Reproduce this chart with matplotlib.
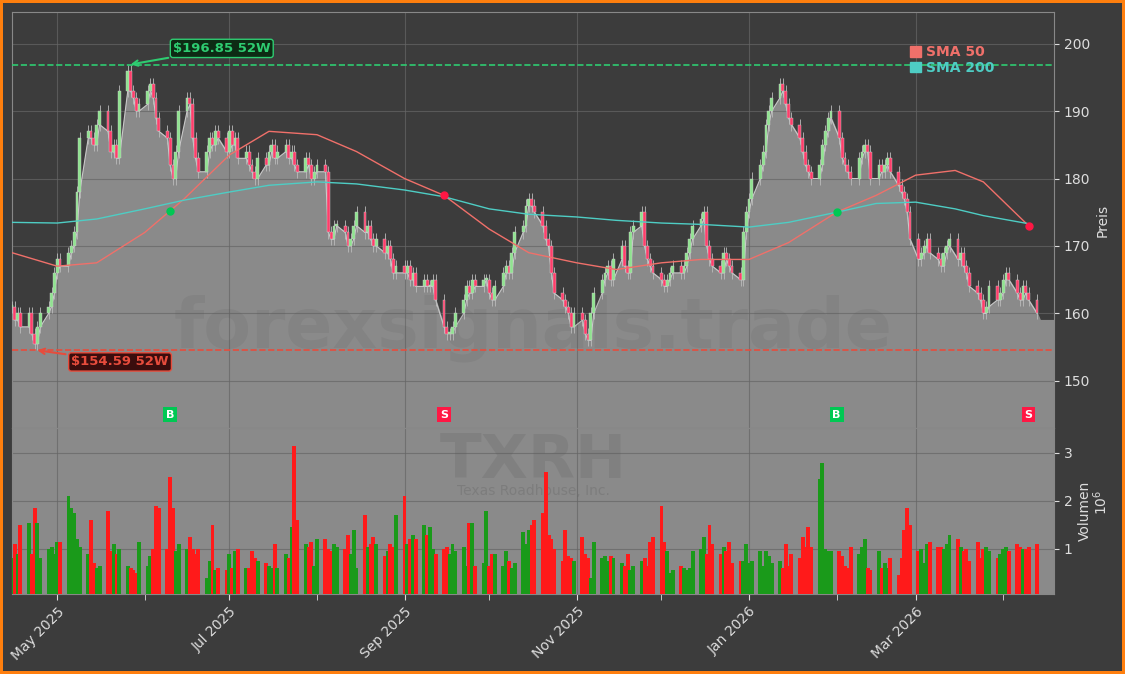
import numpy as np
import pandas as pd
import matplotlib
matplotlib.use('Agg')
import matplotlib.pyplot as plt
import matplotlib.dates as mdates
from matplotlib.patches import Patch

# daily closes, Apr 2025 - Apr 2026
closes = [
    161, 159, 160, 158, 160, 157, 155.5, 158, 160, 161,
    163, 166, 168, 167, 169, 170, 172, 178, 186, 187,
    186, 185, 188, 190, 187, 184, 185, 183, 193, 196,
    193, 192, 190, 191, 193, 194, 192, 189, 187, 186,
    182, 180, 184, 190, 192, 191, 186, 183, 181, 184,
    186, 185, 187, 186, 184, 187, 185, 186, 183, 184,
    182, 181, 180, 183, 182, 184, 185, 183, 184, 185,
    183, 184, 182, 181, 183, 182, 180, 181, 182, 181,
    172, 171, 173, 173, 172, 170, 171, 173, 175, 172,
    173, 171, 170, 171, 169, 170, 168, 166, 167, 166,
    167, 165, 166, 164, 165, 164, 164, 165, 162, 158,
    157, 157, 158, 160, 162, 164, 163, 165, 164, 165,
    165, 163, 162, 164, 166, 167, 166, 169, 172, 173,
    176, 177, 176, 175, 173, 171, 170, 166, 163, 162,
    161, 160, 158, 160, 159, 157, 156, 160, 163, 165,
    166, 167, 165, 168, 170, 167, 166, 172, 173, 175,
    170, 168, 167, 166, 165, 164, 165, 166, 167, 166,
    167, 169, 171, 173, 174, 175, 170, 168, 167, 166,
    169, 168, 167, 166, 165, 172, 175, 177, 180, 182,
    184, 188, 190, 192, 194, 193, 191, 189, 188, 186,
    184, 182, 181, 180, 182, 185, 187, 189, 190, 186,
    183, 182, 181, 180, 183, 184, 185, 184, 180, 182,
    181, 182, 183, 181, 179, 178, 177, 175, 171, 168,
    169, 170, 171, 169, 168, 167, 169, 170, 171, 168,
    169, 167, 166, 164, 163, 162, 160, 161, 164, 162,
    163, 165, 166, 165, 163, 162, 164, 163, 162, 160,
]

# volume in millions
volumes = [
    0.8, 1.1, 0.9, 1.5, 1.55, 0.9, 1.85, 1.55, 0.8, 1.0,
    1.05, 0.9, 1.15, 1.15, 2.1, 1.85, 1.75, 1.2, 1.05, 0.9,
    1.6, 0.7, 0.6, 0.65, 1.8, 0.95, 1.1, 0.9, 1.0, 0.65,
    0.6, 0.55, 0.5, 1.15, 0.65, 0.85, 1.0, 1.9, 1.85, 1.0,
    2.5, 1.85, 0.95, 1.1, 1.0, 1.25, 1.0, 0.9, 1.0, 0.4,
    0.75, 1.5, 0.55, 0.6, 0.55, 0.9, 0.6, 0.95, 1.0, 0.6,
    0.6, 0.95, 0.8, 0.75, 0.7, 0.65, 0.6, 1.1, 0.6, 0.9,
    0.8, 1.45, 3.15, 1.6, 1.1, 1.05, 1.15, 0.65, 1.2, 1.2,
    1.0, 0.95, 1.1, 1.05, 1.0, 1.3, 0.9, 1.4, 0.6, 1.7,
    1.05, 1.1, 1.25, 1.1, 0.85, 0.95, 1.1, 1.05, 1.7, 2.1,
    1.1, 1.2, 1.3, 1.2, 1.5, 1.3, 1.45, 1.0, 0.9, 1.0,
    1.05, 0.9, 1.1, 0.95, 1.05, 0.65, 1.55, 1.55, 0.65, 0.7,
    1.8, 0.65, 0.9, 0.9, 0.65, 0.95, 0.75, 0.6, 0.7, 1.35,
    1.1, 1.4, 1.5, 1.6, 1.75, 2.6, 1.3, 1.2, 1.0, 0.75,
    1.4, 0.85, 0.8, 0.75, 1.25, 0.9, 0.8, 0.4, 1.15, 0.8,
    0.85, 0.75, 0.85, 0.8, 0.7, 0.65, 0.9, 0.55, 0.65, 0.75,
    0.8, 0.65, 1.15, 1.25, 1.9, 1.15, 0.95, 0.5, 0.55, 0.65,
    0.6, 0.55, 0.6, 0.95, 1.0, 1.25, 0.9, 1.5, 1.1, 0.9,
    1.05, 0.95, 1.15, 0.7, 0.75, 0.75, 1.1, 0.7, 0.75, 0.95,
    0.65, 0.95, 0.85, 0.7, 0.75, 0.6, 1.1, 0.65, 0.9, 0.8,
    1.25, 1.05, 1.45, 1.05, 2.45, 2.8, 1.0, 0.95, 0.95, 0.95,
    0.85, 0.65, 0.6, 1.05, 0.9, 1.05, 1.2, 0.6, 0.55, 0.95,
    0.6, 0.7, 0.6, 0.8, 0.45, 0.8, 1.4, 1.85, 1.5, 0.95,
    1.0, 0.7, 1.1, 1.15, 1.05, 1.05, 1.0, 1.1, 1.3, 1.2,
    1.05, 0.95, 1.0, 0.75, 1.15, 0.8, 1.0, 1.05, 0.95, 0.8,
    0.9, 1.0, 1.05, 0.95, 1.1, 1.05, 1.0, 1.0, 1.05, 1.1,
]

# moving averages, sampled
sma_dates = ['2025-04-15', '2025-05-01', '2025-05-15', '2025-06-01', '2025-06-15', '2025-07-01',
             '2025-07-15', '2025-08-01', '2025-08-15', '2025-09-01', '2025-09-15', '2025-10-01',
             '2025-10-15', '2025-11-01', '2025-11-15', '2025-12-01', '2025-12-15', '2026-01-01',
             '2026-01-15', '2026-02-01', '2026-02-15', '2026-03-01', '2026-03-15', '2026-03-25',
             '2026-04-10']
sma50 = [169, 167, 167.5, 172, 177, 183.5, 187, 186.5, 184, 180, 177.5, 172.5,
         169, 167.5, 166.5, 167.5, 168, 168, 170.5, 175, 177.5, 180.5, 181.2, 179.5, 173]
sma200 = [173.5, 173.4, 174, 175.5, 176.8, 178, 179, 179.5, 179.2, 178.3, 177.3, 175.5,
          174.7, 174.3, 173.8, 173.4, 173.2, 172.8, 173.5, 175, 176.3, 176.5, 175.5, 174.5, 173.3]

high_52w, low_52w = 196.85, 154.59
signals = [('2025-06-10', 'B'), ('2025-09-15', 'S'), ('2026-02-01', 'B'), ('2026-04-10', 'S')]

dates = pd.bdate_range('2025-04-15', periods=len(closes))
opens = [closes[0]] + closes[:-1]
sdates = pd.to_datetime(sma_dates)

BG = '#3c3c3c'
FILL = '#8a8a8a'
UP, DOWN = '#8fe38f', '#ff3d6a'

fig = plt.figure(figsize=(11.25, 6.74), dpi=100, facecolor=BG)
fig.patch.set_edgecolor('#ff7f0e')
fig.patch.set_linewidth(4)
ax = fig.add_axes([12 / 1125, 1 - 428 / 674, 1042 / 1125, 416 / 674])
axv = fig.add_axes([12 / 1125, 1 - 594 / 674, 1042 / 1125, 166 / 674], sharex=ax)

for a in (ax, axv):
    a.set_facecolor(BG)
    for s in a.spines.values():
        s.set_color('#888888')
    a.tick_params(colors='#dddddd', labelsize=10)
    a.yaxis.tick_right()
    a.yaxis.set_label_position('right')
    a.grid(True, color='#666666', linewidth=0.8, alpha=0.7)

lows = [min(o, c) for o, c in zip(opens, closes)]
fx = list(dates) + [dates[-1] + pd.Timedelta(days=1), dates[-1] + pd.Timedelta(days=7)]
fy = lows + [159, 159]
ax.fill_between(fx, fy, 140, color=FILL, zorder=1)
ax.plot(dates, lows, color='#c8c8c8', linewidth=0.8, zorder=2)

for d, o, c in zip(dates, opens, closes):
    col = UP if c >= o else DOWN
    lo, hi = min(o, c), max(o, c)
    ax.vlines(d, lo - 0.9, hi + 0.9, color='#bbbbbb', linewidth=0.6, zorder=3)
    ax.bar(d, max(hi - lo, 0.25), bottom=lo, width=1.0, color=col, edgecolor='#d0d0d0',
           linewidth=0.3, zorder=4)

ax.plot(sdates, sma50, color='#f0706a', linewidth=1.0, zorder=5)
ax.plot(sdates, sma200, color='#4ecdc4', linewidth=1.0, zorder=5)

ax.axhline(high_52w, color='#2ecc71', linestyle='--', linewidth=1.2, zorder=5)
ax.axhline(low_52w, color='#e74c3c', linestyle='--', linewidth=1.2, zorder=5)

i_hi = int(np.argmax(closes))
i_lo = int(np.argmin(closes))
ax.annotate(f'${high_52w:.2f} 52W', xy=(dates[i_hi], high_52w), xytext=(dates[i_hi] + pd.Timedelta(days=16), 199.3),
            color='#2ecc71', fontsize=9.5, fontweight='bold', va='center',
            bbox=dict(boxstyle='round,pad=0.2', fc='#0d2b14', ec='#2ecc71'),
            arrowprops=dict(arrowstyle='->', color='#2ecc71', lw=1.5), zorder=7)
ax.annotate(f'${low_52w:.2f} 52W', xy=(dates[i_lo], low_52w), xytext=(dates[i_lo] + pd.Timedelta(days=13), 152.8),
            color='#e74c3c', fontsize=9.5, fontweight='bold', va='center',
            bbox=dict(boxstyle='round,pad=0.2', fc='#3a0d0d', ec='#e74c3c'),
            arrowprops=dict(arrowstyle='->', color='#e74c3c', lw=1.5), zorder=7)

for d, kind in signals:
    d = pd.Timestamp(d)
    col = '#00c853' if kind == 'B' else '#ff1744'
    yv = np.interp(mdates.date2num(d), mdates.date2num(sdates), sma50)
    ax.plot(d, yv, 'o', color=col, markersize=5, zorder=6)
    ax.text(d, 145.0, kind, color='white', fontsize=8, fontweight='bold', ha='center', va='center',
            bbox=dict(boxstyle='square,pad=0.25', fc=col, ec='none'), zorder=7)

ax.text(0.5, 0.24, 'forexsignals.trade', transform=ax.transAxes, fontsize=50, fontweight='bold',
        color='#555555', alpha=0.13, ha='center', va='center', zorder=2)

ax.legend(handles=[Patch(color='#f0706a', label='SMA 50'), Patch(color='#4ecdc4', label='SMA 200')],
          loc='upper right', bbox_to_anchor=(0.955, 0.95), frameon=False, handlelength=0.8,
          handleheight=0.8, handletextpad=0.4, labelspacing=0.1, prop={'weight': 'bold', 'size': 10},
          labelcolor=['#f0706a', '#4ecdc4'])

ax.set_ylim(143, 204.7)
ax.set_yticks([150, 160, 170, 180, 190, 200])
ax.set_ylabel('Preis', color='#dddddd', fontsize=10)
plt.setp(ax.get_xticklabels(), visible=False)

# volume panel
axv.set_facecolor(FILL)
vcols = ['#1a9a1a' if c >= o else '#ff1a1a' for o, c in zip(opens, closes)]
axv.bar(dates, volumes, width=1.4, color=vcols, zorder=3)
axv.text(0.5, 0.8, 'TXRH', transform=axv.transAxes, fontsize=44, fontweight='bold',
         color='#555555', alpha=0.18, ha='center', va='center', zorder=2)
axv.text(0.5, 0.62, 'Texas Roadhouse, Inc.', transform=axv.transAxes, fontsize=10,
         color='#555555', alpha=0.25, ha='center', va='center', zorder=2)
axv.set_ylim(0.06, 3.52)
axv.set_yticks([1, 2, 3])
axv.set_ylabel('Volumen', color='#dddddd', fontsize=10)
axv.text(1.045, 0.55, r'$10^6$', transform=axv.transAxes, color='#dddddd', fontsize=10,
         rotation=90, va='center', ha='center')

axv.set_xlim(pd.Timestamp('2025-04-15'), pd.Timestamp('2026-04-19'))
axv.xaxis.set_major_locator(mdates.MonthLocator(bymonth=[1, 3, 5, 7, 9, 11]))
axv.xaxis.set_minor_locator(mdates.MonthLocator())
axv.xaxis.set_major_formatter(mdates.DateFormatter('%b %Y'))
axv.tick_params(axis='x', which='both', colors='#dddddd', length=4)
plt.setp(axv.get_xticklabels(), rotation=45, ha='right', rotation_mode='anchor')

fig.savefig('out.png', dpi=100, facecolor=BG, edgecolor='#ff7f0e')
